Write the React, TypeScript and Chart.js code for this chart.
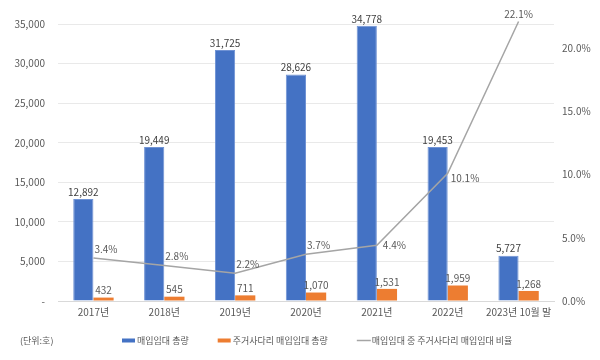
import React, { useEffect, useRef } from "react";
import { Chart, registerables } from "chart.js";

Chart.register(...registerables);

const categories = ["2017년", "2018년", "2019년", "2020년", "2021년", "2022년", "2023년 10월 말"];
const totalLease = [12892, 19449, 31725, 28626, 34778, 19453, 5727];
const ladderLease = [432, 545, 711, 1070, 1531, 1959, 1268];
const ladderRatio = [3.4, 2.8, 2.2, 3.7, 4.4, 10.1, 22.1];
const seriesNames = ["매입임대 총량", "주거사다리 매입임대 총량", "매입임대 중 주거사다리 매입임대 비율"];
const unitLabel = "(단위:호)";

// label anchor per ratio point (style)
const ratioAnchor = ["ne", "ne", "ne", "ne", "e", "se", "n"];

const FONT = "'Noto Sans CJK KR', 'Noto Sans', sans-serif";
const BLUE = "#4472C4";
const ORANGE = "#ED7D31";
const GRAY = "#A5A5A5";

const labelPlugin = {
  id: "valueLabels",
  afterDatasetsDraw(chart: any) {
    const ctx = chart.ctx;
    ctx.save();
    ctx.font = `10px ${FONT}`;
    ctx.fillStyle = "#404040";
    chart.data.datasets.forEach((ds: any, di: number) => {
      const meta = chart.getDatasetMeta(di);
      meta.data.forEach((el: any, i: number) => {
        const v = ds.data[i];
        if (ds.type === "line") {
          const txt = v.toFixed(1) + "%";
          const a = ratioAnchor[i];
          ctx.fillStyle = "#595959";
          ctx.textBaseline = "middle";
          if (a === "ne") {
            ctx.textAlign = "left";
            ctx.fillText(txt, el.x + 1, el.y - 9);
          } else if (a === "e") {
            ctx.textAlign = "left";
            ctx.fillText(txt, el.x + 6, el.y);
          } else if (a === "se") {
            ctx.textAlign = "left";
            ctx.fillText(txt, el.x + 3, el.y + 5);
          } else {
            ctx.textAlign = "center";
            ctx.fillText(txt, el.x, el.y - 7);
          }
        } else {
          ctx.fillStyle = di === 0 ? "#404040" : "#595959";
          ctx.textAlign = "center";
          ctx.textBaseline = "bottom";
          ctx.fillText(v.toLocaleString("en-US"), el.x, el.y - 2);
        }
      });
    });
    ctx.restore();
  },
};

const legendPlugin = {
  id: "customLegend",
  afterDraw(chart: any) {
    const ctx = chart.ctx;
    ctx.save();
    ctx.font = `9px ${FONT}`;
    ctx.fillStyle = "#595959";
    ctx.textBaseline = "middle";
    ctx.textAlign = "left";
    const y = 341;
    ctx.fillText(unitLabel, 20, y);
    let x = 122;
    chart.data.datasets.forEach((ds: any) => {
      if (ds.type === "line") {
        ctx.strokeStyle = ds.borderColor;
        ctx.lineWidth = 1.5;
        ctx.beginPath();
        ctx.moveTo(x, y - 0.5);
        ctx.lineTo(x + 14, y - 0.5);
        ctx.stroke();
      } else {
        ctx.fillStyle = ds.backgroundColor;
        ctx.fillRect(x, y - 2.5, 13, 4);
      }
      ctx.fillStyle = "#595959";
      ctx.fillText(ds.label, x + 15, y);
      x += 15 + ctx.measureText(ds.label).width + 29;
    });
    ctx.restore();
  },
};

export default function App() {
  const ref = useRef<HTMLCanvasElement | null>(null);
  useEffect(() => {
    document.body.style.margin = "0";
    const chart = new Chart(ref.current as HTMLCanvasElement, {
      type: "bar",
      data: {
        labels: categories,
        datasets: [
          {
            type: "bar",
            label: seriesNames[0],
            data: totalLease,
            yAxisID: "y",
            backgroundColor: BLUE,
            borderColor: "#6f92d4",
            borderWidth: 1,
            order: 1,
            categoryPercentage: 0.57,
            barPercentage: 1,
          } as any,
          {
            type: "bar",
            label: seriesNames[1],
            data: ladderLease,
            yAxisID: "y",
            backgroundColor: ORANGE,
            borderWidth: 0,
            order: 1,
            categoryPercentage: 0.57,
            barPercentage: 1,
          } as any,
          {
            type: "line",
            label: seriesNames[2],
            data: ladderRatio,
            yAxisID: "y1",
            borderColor: GRAY,
            backgroundColor: GRAY,
            borderWidth: 1.5,
            pointRadius: 0,
            tension: 0,
            clip: false,
            order: 0,
          } as any,
        ],
      },
      options: {
        animation: false,
        responsive: false,
        layout: { padding: { top: 24, left: 0, right: 0, bottom: 0 } },
        plugins: { legend: { display: false }, tooltip: { enabled: false } },
        scales: {
          x: {
            grid: { display: false, drawTicks: false },
            border: { display: true, color: "#D9D9D9" },
            ticks: { color: "#595959", font: { size: 10, family: FONT }, padding: 5, maxRotation: 0 },
            afterFit: (s: any) => { s.height = 59; },
          },
          y: {
            position: "left",
            min: 0,
            max: 35000,
            ticks: {
              stepSize: 5000,
              color: "#595959",
              font: { size: 10, family: FONT },
              padding: 13,
              callback: (v: any) => (v === 0 ? "-" : Number(v).toLocaleString("en-US")),
            },
            grid: { color: "#E9E9E9", drawTicks: false },
            border: { display: false },
            afterFit: (s: any) => { s.width = 58; },
          },
          y1: {
            position: "right",
            min: 0,
            max: 21.9,
            ticks: {
              stepSize: 5,
              color: "#595959",
              font: { size: 10, family: FONT },
              padding: 8,
              callback: (v: any) => (Math.abs(v % 5) < 1e-6 ? Number(v).toFixed(1) + "%" : ""),
            },
            grid: { display: false, drawTicks: false },
            border: { display: false },
            afterFit: (s: any) => { s.width = 46; },
          },
        },
      },
      plugins: [labelPlugin, legendPlugin],
    } as any);
    return () => chart.destroy();
  }, []);
  return (
    <div style={{ position: "absolute", left: 0, top: 0, width: 600, height: 360 }}>
      <canvas ref={ref} width={600} height={360} style={{ width: 600, height: 360 }} />
    </div>
  );
}
